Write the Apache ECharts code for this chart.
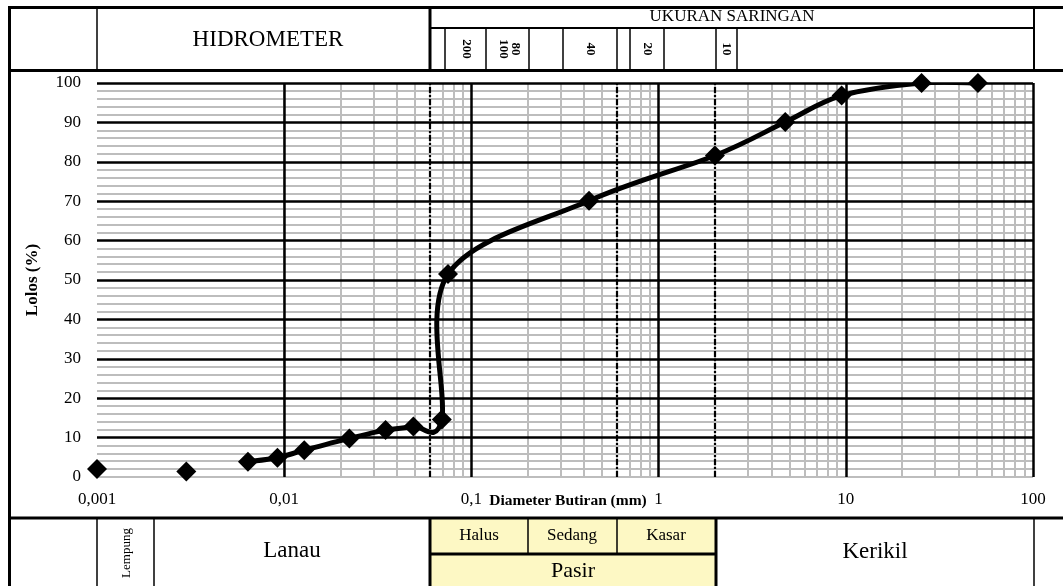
<!DOCTYPE html>
<html>
<head>
<meta charset="utf-8">
<script src="https://cdn.jsdelivr.net/npm/echarts@6/dist/echarts.min.js"></script>
<style>
  html, body { margin: 0; padding: 0; background: #ffffff; }
  #chart { width: 1063px; height: 586px; }
</style>
</head>
<body>
<div id="chart"></div>
<script>
// Grain size distribution: sieve + hydrometer results
const diameter = [0.001, 0.003, 0.0064, 0.0092, 0.0128, 0.0223, 0.0348, 0.049, 0.0695, 0.075, 0.425, 2.0, 4.75, 9.5, 25.4, 50.8];
const lolos    = [2.0,   1.4,   3.9,    4.9,    6.8,    9.8,    11.9,   12.8,  14.6,   51.5,  70.1,  81.6, 90.1, 96.8, 100, 100];
// the fitted curve runs from the third reading onward
const curveStart = 2;

const xTickLabels = ['0,001', '0,01', '0,1', '1', '10', '100'];
const decadeLines = [0.001, 0.01, 0.1, 1, 10, 100];
const minorMultipliers = [2, 3, 4, 5, 6, 7, 8, 9];
const boundaryLines = [0.06, 0.6, 2];          // Lanau/Pasir, Sedang/Kasar, Pasir/Kerikil
const yMajor = [10, 20, 30, 40, 50, 60, 70, 80, 90, 100];
const yMinorStep = 2;

const sieveLabels = ['200', '80\n100', '40', '20', '10'];
const fractionLabels = ['Lempung', 'Lanau', 'Halus', 'Sedang', 'Kasar', 'Pasir', 'Kerikil'];

const SERIF = '"Liberation Serif", "Times New Roman", serif';

// grid lines built on the axes' own scales
const minorX = [];
decadeLines.slice(0, -1).forEach(d => minorMultipliers.forEach(k => minorX.push(+(d * k).toPrecision(6))));
const minorY = [];
for (let v = 0; v < 100; v += yMinorStep) if (v % 10 !== 0 || v === 0) minorY.push(v);

const grey = '#bdbdbd';
const minorLines = minorX.map(v => ({ xAxis: v }))
  .concat(minorY.map(v => ({ yAxis: v })));
const majorLines = yMajor.map(v => ({ yAxis: v }))
  .concat(decadeLines.map(v => ({ xAxis: v })))
  .concat(boundaryLines.map(v => ({ xAxis: v, lineStyle: { type: [6, 2, 2, 2], width: 2.2, color: '#000' } })));

const curveData = diameter.slice(curveStart).map((d, i) => [d, lolos[i + curveStart]]);
const pointData = diameter.map((d, i) => [d, lolos[i]]);

// smooth curve: cubic Bezier segments with tangents (next - prev) / 6, in pixel space
function renderCurve(params, api) {
  if (params.dataIndex !== 0) return null;
  const pts = curveData.map(p => api.coord(p));
  const n = pts.length;
  let d = 'M' + pts[0][0] + ' ' + pts[0][1];
  for (let i = 0; i < n - 1; i++) {
    const p0 = pts[Math.max(i - 1, 0)], p1 = pts[i], p2 = pts[i + 1], p3 = pts[Math.min(i + 2, n - 1)];
    const c1x = p1[0] + (p2[0] - p0[0]) / 6, c1y = p1[1] + (p2[1] - p0[1]) / 6;
    const c2x = p2[0] - (p3[0] - p1[0]) / 6, c2y = p2[1] - (p3[1] - p1[1]) / 6;
    d += ' C' + c1x + ' ' + c1y + ' ' + c2x + ' ' + c2y + ' ' + p2[0] + ' ' + p2[1];
  }
  return {
    type: 'path',
    shape: { pathData: d },
    style: { stroke: '#000', lineWidth: 5, fill: null, lineJoin: 'round' }
  };
}

// table frame around the plot
function hLine(x1, x2, y, w) {
  return { type: 'line', z: 20, silent: true, shape: { x1, y1: y, x2, y2: y }, style: { stroke: '#000', lineWidth: w } };
}
function vLine(x, y1, y2, w) {
  return { type: 'line', z: 20, silent: true, shape: { x1: x, y1, x2: x, y2 }, style: { stroke: '#000', lineWidth: w } };
}
function label(text, x, y, size, opts) {
  opts = opts || {};
  return {
    type: 'text', z: 21, silent: true, x, y, rotation: opts.rotation || 0,
    style: {
      text, x: 0, y: 0, fill: '#000', align: 'center', verticalAlign: 'middle',
      fontFamily: SERIF, fontSize: size, fontWeight: opts.bold ? 'bold' : 'normal',
      lineHeight: opts.lineHeight || size
    }
  };
}

const sieveCellLines = [445, 486, 529, 563, 617, 630, 664, 716, 737];
const sieveLabelX = [466, 509, 590, 647, 726.5];

const graphics = [
  // faint tint behind the sand cells
  { type: 'rect', z: 1, silent: true, shape: { x: 430, y: 518, width: 286, height: 68 }, style: { fill: '#fdf8c4' } },
  // outer frame and header
  hLine(8, 1063, 7.5, 3),
  vLine(9.5, 6, 586, 3),
  hLine(8, 1063, 70.5, 3),
  vLine(97, 7, 70, 1.5),
  vLine(430, 7, 70, 3),
  hLine(430, 1034, 28, 2),
  vLine(1034, 7, 70, 2),
  ...sieveCellLines.map(x => vLine(x, 28, 70, 1.5)),
  label('HIDROMETER', 268, 40, 23),
  label('UKURAN SARINGAN', 732, 17, 17),
  ...sieveLabels.map((t, i) => label(t, sieveLabelX[i], 49, 13, { bold: true, rotation: -Math.PI / 2, lineHeight: 12 })),
  // soil fraction table
  hLine(8, 1063, 518, 3),
  vLine(97, 518, 586, 1.5),
  vLine(154, 518, 586, 1.5),
  vLine(430, 518, 586, 3),
  vLine(528, 518, 554, 1.5),
  vLine(617, 518, 554, 1.5),
  hLine(430, 716, 554, 3),
  vLine(716, 518, 586, 3),
  vLine(1034, 518, 586, 1.5),
  label(fractionLabels[0], 127, 553, 13, { rotation: Math.PI / 2 }),
  label(fractionLabels[1], 292, 551, 23),
  label(fractionLabels[2], 479, 536, 17),
  label(fractionLabels[3], 572, 536, 17),
  label(fractionLabels[4], 666, 536, 17),
  label(fractionLabels[5], 573, 571, 22),
  label(fractionLabels[6], 875, 552, 23),
  // y axis title
  label('Lolos (%)', 33, 280, 17, { bold: true, rotation: Math.PI / 2 })
];

const chart = echarts.init(document.getElementById('chart'), null, { renderer: 'canvas' });
chart.setOption({
  animation: false,
  backgroundColor: '#ffffff',
  grid: { left: 97, right: 30, top: 83, bottom: 109 },
  xAxis: {
    type: 'log', logBase: 10, min: 0.001, max: 100,
    axisLine: { show: false }, axisTick: { show: false }, splitLine: { show: false },
    axisLabel: {
      margin: 14, color: '#000', fontFamily: SERIF, fontSize: 17,
      formatter: v => xTickLabels[Math.round(Math.log10(v)) + 3]
    },
    name: 'Diameter Butiran (mm)', nameLocation: 'middle', nameGap: 16, nameMoveOverlap: false,
    nameTextStyle: { color: '#000', fontFamily: SERIF, fontSize: 15.5, fontWeight: 'bold', verticalAlign: 'top', padding: [0, 0, 0, 6] }
  },
  yAxis: {
    type: 'value', min: 0, max: 100, interval: 10,
    axisLine: { show: false }, axisTick: { show: false }, splitLine: { show: false },
    axisLabel: { margin: 16, color: '#000', fontFamily: SERIF, fontSize: 17 }
  },
  series: [
    {
      name: 'minor grid', type: 'line', data: [], z: 1, silent: true,
      markLine: {
        z: 1, silent: true, symbol: ['none', 'none'], label: { show: false }, animation: false,
        lineStyle: { color: grey, width: 2, type: 'solid' },
        data: minorLines
      }
    },
    {
      name: 'major grid', type: 'line', data: [], z: 2, silent: true,
      markLine: {
        z: 2, silent: true, symbol: ['none', 'none'], label: { show: false }, animation: false,
        lineStyle: { color: '#000', width: 2.5, type: 'solid' },
        data: majorLines
      }
    },
    {
      name: 'curve', type: 'custom', data: curveData, z: 4, clip: true, silent: true,
      encode: { x: 0, y: 1 },
      renderItem: renderCurve
    },
    {
      name: 'lolos', type: 'scatter', data: pointData, z: 5, clip: false,
      symbol: 'diamond', symbolSize: 20,
      itemStyle: { color: '#000', opacity: 1 }
    }
  ],
  graphic: graphics
});
</script>
</body>
</html>
